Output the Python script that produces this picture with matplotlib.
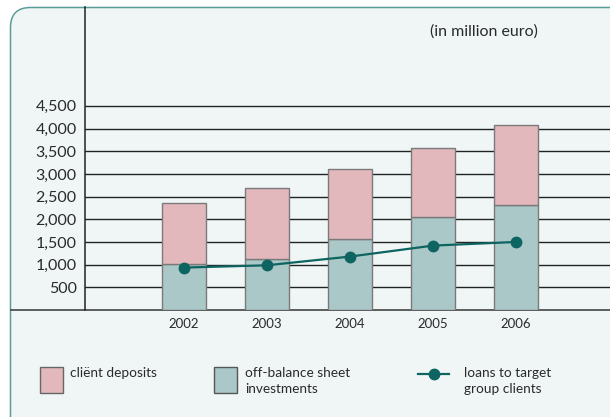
import matplotlib.pyplot as plt
from matplotlib.patches import FancyBboxPatch, Rectangle

plt.rcParams['font.family'] = ['Lato', 'DejaVu Sans']

# data (in million euro)
years = ['2002', '2003', '2004', '2005', '2006']
off_balance = [1015, 1118, 1560, 2060, 2325]
client_deposits = [1345, 1567, 1559, 1522, 1756]
loans_target = [935, 986, 1178, 1420, 1500]
y_ticks = [500, 1000, 1500, 2000, 2500, 3000, 3500, 4000, 4500]

pink = '#e3b8bd'
green = '#a9c8c7'
teal = '#0e6461'
bg = '#f0f6f6'
edge = '#7a7a7a'
txt = '#2a2a2a'

W, H = 610, 417
fig = plt.figure(figsize=(W / 100, H / 100), dpi=100)
fig.patch.set_facecolor('white')

# background axes in pixel coordinates
bg_ax = fig.add_axes([0, 0, 1, 1])
bg_ax.set_xlim(0, W)
bg_ax.set_ylim(H, 0)
bg_ax.axis('off')
box = FancyBboxPatch((10.5, 7.5), 620, 440, boxstyle='round,pad=0,rounding_size=20',
                     facecolor=bg, edgecolor='#5a9e99', linewidth=1.1)
bg_ax.add_patch(box)
bg_ax.plot([11, W], [310, 310], color='#444444', lw=1.2, zorder=3)

# main chart
ax = fig.add_axes([85 / W, (H - 310) / H, (W - 85) / W, 303 / H])
ax.set_facecolor('none')
x = list(range(len(years)))
ax.bar(x, off_balance, width=0.535, color=green, edgecolor=edge, linewidth=1, zorder=3)
ax.bar(x, client_deposits, width=0.535, bottom=off_balance, color=pink,
       edgecolor=edge, linewidth=1, zorder=3)
ax.plot(x, loans_target, color=teal, lw=1.6, marker='o', markersize=7.5, zorder=4)

ax.set_xlim(-1.19, 5.13)
ax.set_ylim(0, 6680)
ax.set_yticks(y_ticks)
ax.set_yticklabels([f'{v:,}' for v in y_ticks], fontsize=11.5, color=txt)
ax.set_xticks(x)
ax.set_xticklabels(years, fontsize=9.5, color=txt)
ax.tick_params(axis='both', length=0)
ax.tick_params(axis='y', pad=6)
ax.tick_params(axis='x', pad=6)
ax.yaxis.grid(True, color='#222222', lw=1, zorder=0)
ax.set_axisbelow(True)
for s in ['top', 'right', 'bottom']:
    ax.spines[s].set_visible(False)
ax.spines['left'].set_color('#222222')
ax.spines['left'].set_linewidth(1.1)

bg_ax.text(484, 31.5, '(in million euro)', fontsize=11.5, color=txt, ha='center', va='center')

# legend
bg_ax.add_patch(Rectangle((40, 367), 22.5, 25.5, facecolor=pink, edgecolor='#666666', lw=1))
bg_ax.text(70.5, 373, 'cliënt deposits', fontsize=9.8, color=txt, va='center')
bg_ax.add_patch(Rectangle((214, 367), 22.5, 25.5, facecolor=green, edgecolor='#555555', lw=1))
bg_ax.text(245, 381, 'off-balance sheet\ninvestments', fontsize=9.8, color=txt,
           va='center', linespacing=1.45)
bg_ax.plot([418, 449], [374, 374], color=teal, lw=1.6)
bg_ax.plot([434], [374], marker='o', color=teal, markersize=7.5)
bg_ax.text(464, 381, 'loans to target\ngroup clients', fontsize=9.8, color=txt,
           va='center', linespacing=1.45)

fig.savefig('out.png', dpi=100, facecolor='white')
